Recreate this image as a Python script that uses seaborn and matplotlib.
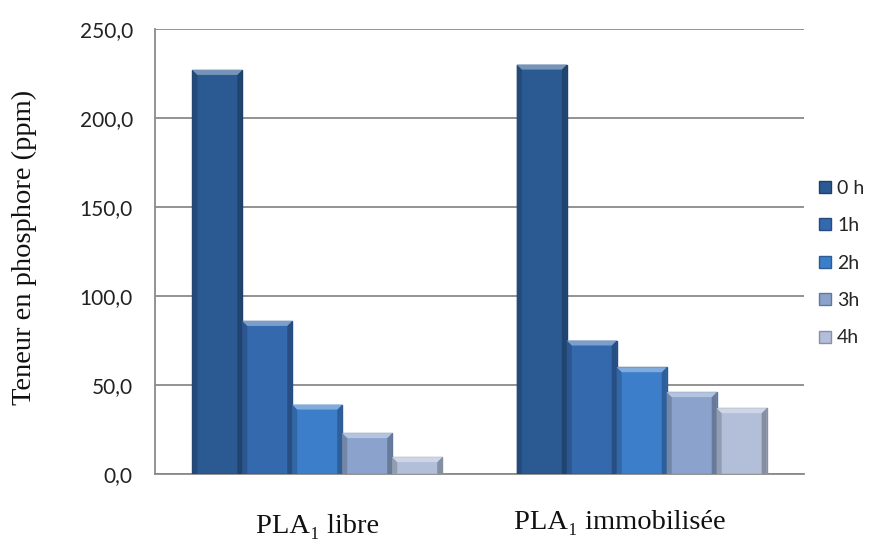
import matplotlib
matplotlib.use("Agg")
import matplotlib.pyplot as plt
import matplotlib.transforms as mtransforms
import seaborn as sns
import pandas as pd
import numpy as np
from matplotlib.lines import Line2D
from matplotlib.patches import Polygon
from matplotlib.colors import to_rgb

categories = ["PLA\u2081 libre", "PLA\u2081 immobilisée"]
times = ["0 h", "1h", "2h", "3h", "4h"]
values_libre = [227.0, 86.0, 39.0, 23.0, 9.5]
values_immob = [230.0, 75.0, 60.0, 46.0, 37.0]
ytick_values = [0, 50, 100, 150, 200, 250]
ytick_labels = ["0,0", "50,0", "100,0", "150,0", "200,0", "250,0"]
colors = ["#2b5a92", "#3469ae", "#3d7ecb", "#8ba3cc", "#b3bfd8"]
edge_colors = ["#1d3f68", "#244c80", "#2b5c96", "#61779c", "#8491aa"]

rows = []
for t, v in zip(times, values_libre):
    rows.append({"cat": categories[0], "time": t, "val": v})
for t, v in zip(times, values_immob):
    rows.append({"cat": categories[1], "time": t, "val": v})
df = pd.DataFrame(rows)

sns.set_style("white")
fig = plt.figure(figsize=(8.95, 5.43), dpi=100)
ax = fig.add_axes([155/895, 1-474/543, (804-155)/895, (474-29)/543])

sns.barplot(data=df, x="cat", y="val", hue="time", hue_order=times,
            order=categories, palette=colors, saturation=1, width=0.77,
            ax=ax, legend=False, linewidth=1.0)

ax.set_ylim(0, 250)
ax.set_xlim(-0.5, 1.5)


def blend(c, other, a):
    c = np.array(to_rgb(c)); o = np.array(to_rgb(other))
    return tuple(c * (1 - a) + o * a)


# bevel decoration derived from the library's bar patches
sx = ax.transData.transform((1, 0))[0] - ax.transData.transform((0, 0))[0]
sy = ax.transData.transform((0, 1))[1] - ax.transData.transform((0, 0))[1]
bpx = 5.0
dx, dy = bpx / sx, bpx / sy
for i, cont in enumerate(ax.containers):
    base = colors[i]
    for p in cont:
        p.set_edgecolor(edge_colors[i])
        p.set_zorder(3)
        x0, y0 = p.get_x(), p.get_y()
        w, h = p.get_width(), p.get_height()
        x1, y1 = x0 + w, y0 + h
        top = Polygon([(x0, y1), (x1, y1), (x1 - dx, y1 - dy), (x0 + dx, y1 - dy)],
                      closed=True, facecolor=blend(base, "white", 0.35),
                      edgecolor="none", zorder=4)
        left = Polygon([(x0, y0), (x0, y1), (x0 + dx, y1 - dy), (x0 + dx, y0)],
                       closed=True, facecolor=blend(base, "black", 0.18),
                       edgecolor="none", zorder=4)
        right = Polygon([(x1, y0), (x1, y1), (x1 - dx, y1 - dy), (x1 - dx, y0)],
                        closed=True, facecolor=blend(base, "black", 0.25),
                        edgecolor="none", zorder=4)
        for poly in (left, right, top):
            ax.add_patch(poly)

ax.set_yticks(ytick_values)
ax.set_yticklabels(ytick_labels, fontfamily="Lato", fontsize=15, color="#222222")
ax.yaxis.grid(True, color="#8a8a8a", linewidth=1.3, zorder=0)
ax.set_axisbelow(True)
for s in ["top", "right"]:
    ax.spines[s].set_visible(False)
ax.spines["left"].set_color("#8a8a8a")
ax.spines["left"].set_linewidth(1.3)
ax.spines["bottom"].set_color("#8a8a8a")
ax.spines["bottom"].set_linewidth(1.3)
ax.tick_params(axis="y", direction="out", length=6, width=1.3, color="#8a8a8a", pad=10)
ax.tick_params(axis="x", length=0, pad=26)
ax.set_xticks([0, 1])
ax.set_xticklabels(categories, fontfamily="Liberation Serif", fontsize=20.5, color="#111111")
xl = ax.get_xticklabels()
xl[0].set_transform(xl[0].get_transform() +
                    mtransforms.ScaledTranslation(0, -2.5/72, fig.dpi_scale_trans))
xl[1].set_transform(xl[1].get_transform() +
                    mtransforms.ScaledTranslation(-16/72, 0, fig.dpi_scale_trans))
ax.set_xlabel("")
ax.set_ylabel("Teneur en phosphore (ppm)", fontfamily="Liberation Serif",
              fontsize=20.5, color="#111111")
ax.yaxis.set_label_coords(-0.182, 0.509)

handles = [Line2D([0], [0], marker="s", linestyle="", markersize=8,
                  markerfacecolor=c, markeredgecolor=e)
           for c, e in zip(colors, edge_colors)]
fig.legend(handles, times, loc="upper left", bbox_to_anchor=(808/895, 1-172/543),
           frameon=False, prop={"family": "Lato", "size": 14},
           handletextpad=0.1, labelspacing=1.05, handlelength=1.0, borderaxespad=0)

fig.savefig("out.png", dpi=100)
